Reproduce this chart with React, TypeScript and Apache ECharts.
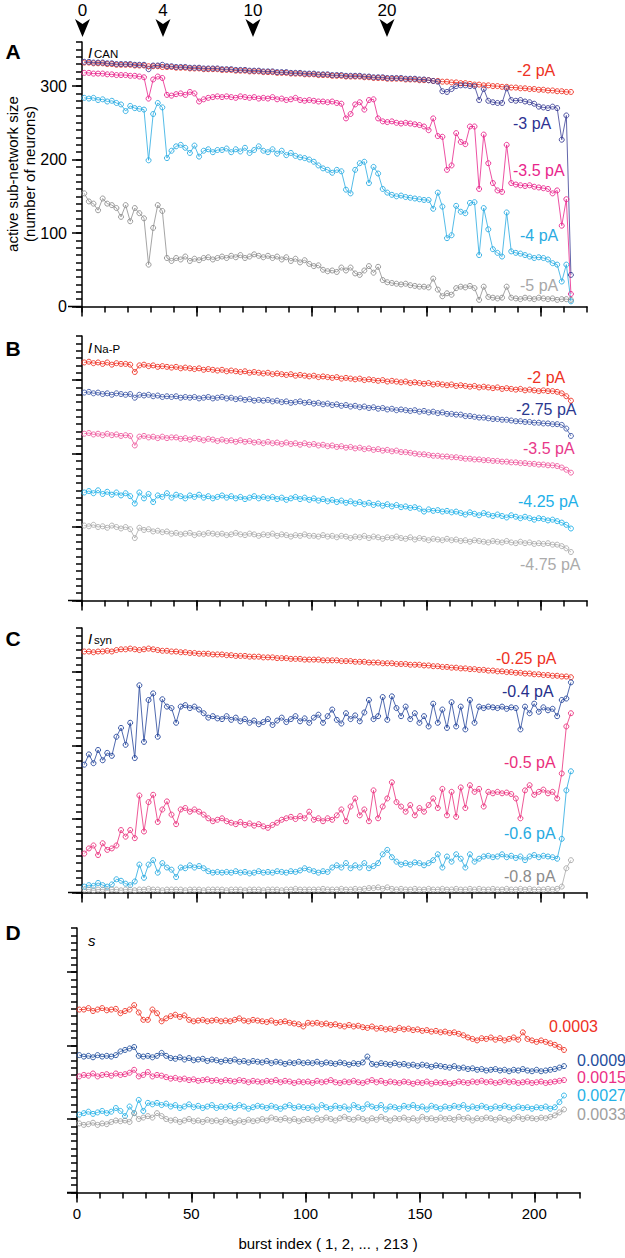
import { useEffect, useRef } from 'react';
import * as echarts from 'echarts';

// burst index of each plotted point (every second burst)
const burst: number[] = Array.from({ length: 107 }, (_, i) => 2 * i + 1);

// ---- Panel A : I_CAN ----
const aRed = [332,332,331,331,331,330,330,329,329,329,329,328,328,328,327,327,327,326,326,326,325,325,325,324,324,324,323,323,323,323,322,322,322,321,321,321,320,320,320,319,319,319,318,318,318,317,317,317,316,316,316,315,315,315,314,314,314,313,313,313,313,312,312,311,311,311,310,310,310,310,309,309,309,308,308,308,307,307,306,306,305,305,304,304,303,302,302,301,301,300,300,299,299,298,298,297,297,296,296,295,295,294,294,293,293,292,292];
const aNavy = [333,333,332,332,332,331,331,330,330,330,330,329,329,329,323,328,328,329,327,327,326,326,326,325,325,325,324,324,324,324,323,323,323,322,322,322,321,321,321,320,320,320,319,319,319,318,318,318,317,317,317,316,316,316,315,315,315,314,314,314,314,313,313,312,312,312,311,311,311,311,310,310,310,309,309,308,307,306,293,292,296,300,301,301,300,300,281,296,280,278,277,277,297,281,280,281,279,278,276,272,271,270,272,270,227,260,43];
const aMagenta = [318,318,317,317,317,316,316,315,315,315,314,314,313,312,283,309,313,311,288,287,289,290,288,292,290,279,282,284,285,286,285,286,285,284,286,285,284,285,283,284,283,285,282,283,281,282,284,281,280,281,280,279,279,278,279,277,276,256,262,275,278,268,281,282,256,252,251,252,250,249,250,249,248,247,245,240,256,232,231,186,192,236,224,221,245,245,160,234,195,168,158,156,220,168,166,165,164,165,163,162,161,160,154,158,110,146,17];
const aCyan = [284,283,284,281,282,279,280,277,275,266,273,270,269,268,199,262,277,271,202,212,218,220,216,209,219,204,212,214,210,213,213,215,210,214,211,216,209,213,218,212,210,214,208,212,206,209,205,203,202,200,197,192,188,186,182,186,184,159,154,186,195,197,168,190,181,160,155,152,150,151,149,148,147,146,145,145,133,155,136,93,97,137,129,127,141,142,70,134,105,78,73,68,128,75,73,72,70,68,66,67,66,64,59,57,34,57,7];
const aGray = [154,143,140,131,147,140,138,134,122,138,116,134,127,120,57,107,138,130,66,62,66,64,68,62,65,63,66,67,64,66,68,66,69,67,70,66,68,71,69,67,69,66,68,64,67,62,65,60,63,58,55,56,50,48,49,47,53,49,53,45,43,49,55,46,54,36,33,32,31,30,31,29,28,27,27,26,38,23,14,18,16,25,27,26,28,25,9,27,13,12,11,12,27,12,11,10,12,11,10,12,11,10,11,9,10,10,9];

// ---- Panel B : I_Na-P ----
const bRed = [324,325,323,324,322,324,321,323,322,322,321,311,320,321,319,320,318,319,318,317,318,316,317,316,315,316,314,315,314,313,314,312,313,312,311,312,310,311,310,309,310,308,309,308,307,308,306,307,306,305,306,304,305,304,303,304,302,303,302,301,302,300,301,300,299,300,298,299,298,297,298,296,297,296,295,296,294,295,294,293,294,292,293,292,291,292,290,291,290,289,290,288,289,288,287,288,286,287,286,285,286,285,285,284,282,278,272];
const bNavy = [283,284,282,283,281,282,280,282,281,280,281,276,280,279,280,278,279,277,278,277,278,276,277,276,277,275,276,277,275,276,277,275,276,274,275,273,274,272,273,272,273,271,272,270,271,269,270,271,269,270,268,269,267,268,266,267,265,266,264,265,263,264,262,263,261,262,260,261,259,260,259,258,259,257,258,256,257,255,256,254,254,253,253,251,251,250,249,249,248,247,247,246,246,245,244,244,243,243,242,242,241,241,240,240,239,234,224];
const bPink = [227,228,226,227,225,227,225,226,224,225,224,211,223,224,222,223,221,223,221,222,222,220,221,219,221,220,218,220,219,217,219,217,218,216,218,216,217,215,216,214,216,214,215,213,215,213,214,212,214,212,213,211,212,210,211,209,210,208,209,207,208,206,207,205,206,204,205,203,204,202,202,201,200,199,199,198,197,197,196,196,195,195,194,193,193,192,192,191,191,190,190,189,189,188,188,187,187,186,186,185,185,184,184,183,181,178,174];
const bCyan = [147,149,146,150,145,148,144,147,143,146,142,132,147,139,145,134,143,141,146,140,144,142,139,143,141,144,140,142,139,141,143,140,142,139,141,138,140,142,139,141,139,141,138,140,137,139,141,138,140,137,139,136,138,135,137,134,136,133,135,132,134,131,133,130,132,129,131,128,130,127,128,126,127,125,121,124,122,123,121,122,120,121,119,117,120,118,116,119,117,115,117,115,113,116,114,112,114,112,110,112,111,109,110,108,106,103,98];
const bGray = [102,101,103,100,101,99,102,100,98,100,97,85,99,96,97,94,95,93,94,91,92,90,91,92,89,91,90,92,91,90,91,89,90,92,90,89,91,90,88,90,89,91,88,90,89,87,89,88,90,88,88,87,89,87,88,86,88,87,85,87,86,88,85,87,86,84,86,85,87,85,84,86,83,85,84,82,84,83,82,84,82,83,81,82,80,82,81,80,79,81,80,79,81,79,78,80,78,79,77,78,77,78,76,76,74,71,66];

// ---- Panel C : I_syn ----
const cRed = [328,328,327,328,328,329,328,330,331,331,332,331,330,331,332,331,330,329,329,328,328,327,327,326,326,325,325,325,324,324,324,323,323,322,322,322,321,321,321,320,320,320,319,319,319,318,318,318,317,317,317,317,316,316,316,316,315,315,315,314,314,314,313,313,313,312,312,312,311,311,311,310,310,310,309,309,308,308,307,307,306,306,305,305,304,304,303,303,302,302,301,301,300,300,299,299,298,298,297,297,296,296,295,295,294,294,293];
const cNavy = [174,188,176,194,180,190,186,212,224,201,231,183,282,205,262,271,212,263,253,251,231,253,255,251,253,249,244,238,240,237,236,240,235,238,233,236,231,234,229,232,236,228,234,238,232,236,240,233,237,231,238,242,231,240,249,235,230,244,236,241,233,245,262,236,240,266,235,267,251,240,253,236,244,231,240,226,257,231,249,224,259,226,253,222,262,231,253,251,253,252,251,253,250,252,251,222,253,244,257,246,252,248,250,240,262,264,286];
const cMagenta = [53,60,64,51,67,58,60,64,85,76,85,74,132,83,123,133,96,113,124,106,93,113,115,110,113,110,106,101,97,99,101,97,95,93,96,92,94,91,93,90,88,92,95,99,101,103,100,104,101,110,99,101,97,101,99,105,113,97,117,128,105,113,97,139,101,117,128,150,123,117,110,119,105,115,110,119,128,115,141,105,137,103,143,115,146,137,141,117,137,135,137,135,136,134,128,101,139,146,133,137,140,135,137,128,162,226,244];
const cCyan = [8,10,9,13,10,8,11,18,16,12,10,15,38,20,38,44,27,40,34,31,21,34,33,37,34,36,33,29,27,28,27,28,27,29,27,28,26,27,29,27,28,27,29,28,27,29,28,30,33,31,29,27,29,28,34,37,34,40,33,37,34,40,33,36,40,52,58,48,42,38,40,38,41,40,37,40,44,52,34,49,42,52,46,34,52,42,46,49,50,48,49,52,48,50,47,49,44,49,51,48,50,49,48,46,73,139,165];
const cGray = [4,4,3,4,4,3,4,4,3,4,4,3,4,4,5,4,4,3,4,4,4,4,3,4,4,4,3,4,4,4,4,3,4,4,4,3,4,4,4,3,4,4,4,3,4,4,5,4,4,4,4,4,5,4,4,4,5,4,4,5,4,5,6,6,7,5,7,5,4,5,4,4,5,4,4,5,4,4,5,4,4,5,4,4,5,4,5,4,4,5,4,4,5,4,4,5,4,5,4,4,4,5,4,5,8,33,44];

// ---- Panel D : s ----
const dRed = [249,249,251,247,249,251,248,249,250,244,247,249,255,245,235,235,249,244,233,237,240,242,239,241,235,233,234,235,233,234,235,233,234,233,235,237,234,233,235,234,233,232,234,231,232,233,231,230,229,226,231,230,231,229,230,228,229,227,226,228,226,227,225,224,226,223,224,222,223,221,224,222,223,221,222,220,221,219,220,218,219,217,218,216,214,211,209,207,210,209,211,208,210,207,209,211,208,218,209,207,205,207,205,203,201,198,194];
const dNavy = [187,185,186,184,187,185,186,185,187,192,194,196,198,186,185,186,184,186,190,186,183,182,184,181,183,180,181,182,179,181,180,178,180,179,181,178,179,177,179,178,177,179,176,178,177,175,177,176,178,176,177,176,178,175,177,176,175,177,176,174,176,175,177,185,175,174,176,175,174,176,174,175,173,174,172,174,173,171,173,172,171,170,172,169,170,168,169,167,168,166,167,168,166,167,165,167,166,168,166,165,167,165,166,167,168,170,172];
const dPink = [158,160,159,162,158,160,161,159,162,160,161,163,167,158,160,164,158,160,159,157,155,156,154,155,153,154,152,153,154,152,153,151,153,152,151,153,152,150,152,151,150,152,151,153,150,152,151,149,151,150,151,149,152,150,151,153,150,149,151,150,152,150,149,151,153,150,152,149,151,150,149,151,150,148,150,149,151,148,150,149,150,148,149,151,150,149,151,150,152,150,151,149,150,152,150,151,149,150,151,149,150,151,149,150,151,152,153];
const dCyan = [106,108,110,107,109,111,108,110,115,111,104,117,108,126,111,122,120,122,119,121,117,119,115,117,120,116,118,115,117,119,115,117,116,118,115,119,117,114,116,118,117,115,118,116,114,117,119,115,117,116,115,117,113,119,116,114,118,115,117,113,119,116,114,120,117,115,119,113,117,116,114,118,116,119,115,117,113,118,116,114,117,115,118,116,119,114,117,115,118,116,114,117,115,118,116,114,117,115,116,114,116,115,117,114,116,123,132];
const dGray = [94,92,93,95,92,94,93,96,98,97,98,96,108,100,102,104,102,108,104,100,98,99,96,98,100,97,98,96,99,97,98,96,99,97,95,98,96,99,97,98,100,98,102,100,99,101,98,100,97,99,100,98,101,99,102,100,98,101,103,100,99,102,100,98,101,99,103,100,98,101,100,102,99,101,98,103,100,101,99,102,100,101,99,103,100,102,98,101,100,102,101,99,102,100,98,101,103,100,102,101,100,102,101,103,105,109,113];

// tick labels
const yTickLabels = ['0', '100', '200', '300'];
const xTickLabels = ['0', '50', '100', '150', '200'];
const arrowLabels = ['0', '4', '10', '20'];

const FONT = '"Liberation Sans", Arial, Helvetica, sans-serif';
const H = 264.5;

type S = { data: number[]; color: string; label: string; lcolor: string; lx: number; ly: number };
type P = { top: number; left: number; width: number; yOff: number; series: S[] };

const panels: P[] = [
  {
    top: 42, left: 82, width: 505, yOff: 4,
    series: [
      { data: aRed, color: '#EE3124', label: '-2 pA', lcolor: '#EE3124', lx: 517, ly: 70 },
      { data: aNavy, color: '#3A3D94', label: '-3 pA', lcolor: '#2E3192', lx: 513, ly: 123 },
      { data: aMagenta, color: '#E8258C', label: '-3.5 pA', lcolor: '#E8258C', lx: 513, ly: 170 },
      { data: aCyan, color: '#29ABE2', label: '-4 pA', lcolor: '#29ABE2', lx: 520, ly: 235 },
      { data: aGray, color: '#8E8E8E', label: '-5 pA', lcolor: '#A8A8A8', lx: 520, ly: 285 },
    ],
  },
  {
    top: 336, left: 82, width: 505, yOff: 4,
    series: [
      { data: bRed, color: '#EE3124', label: '-2 pA', lcolor: '#EE3124', lx: 527, ly: 377 },
      { data: bNavy, color: '#3B56A6', label: '-2.75 pA', lcolor: '#2B3990', lx: 516, ly: 409 },
      { data: bPink, color: '#EE5A9E', label: '-3.5 pA', lcolor: '#E8388A', lx: 523, ly: 448 },
      { data: bCyan, color: '#1EB0E8', label: '-4.25 pA', lcolor: '#1EB0E8', lx: 518, ly: 501 },
      { data: bGray, color: '#ABABAB', label: '-4.75 pA', lcolor: '#ABABAB', lx: 520, ly: 564 },
    ],
  },
  {
    top: 628, left: 82, width: 505, yOff: 4,
    series: [
      { data: cRed, color: '#EE3124', label: '-0.25 pA', lcolor: '#EE3124', lx: 496, ly: 658 },
      { data: cNavy, color: '#23449B', label: '-0.4 pA', lcolor: '#262F8A', lx: 502, ly: 691 },
      { data: cMagenta, color: '#EA2F7C', label: '-0.5 pA', lcolor: '#EA2F7C', lx: 504, ly: 762 },
      { data: cCyan, color: '#27AAE1', label: '-0.6 pA', lcolor: '#27AAE1', lx: 504, ly: 833 },
      { data: cGray, color: '#A8A8A8', label: '-0.8 pA', lcolor: '#8C8C8C', lx: 504, ly: 876 },
    ],
  },
  {
    top: 928, left: 77, width: 503, yOff: 0,
    series: [
      { data: dRed, color: '#EE3124', label: '0.0003', lcolor: '#EE3124', lx: 549, ly: 1026 },
      { data: dNavy, color: '#1F4E9C', label: '0.0009', lcolor: '#1F4E9C', lx: 577, ly: 1060 },
      { data: dPink, color: '#EC2F85', label: '0.0015', lcolor: '#EC2F85', lx: 577, ly: 1077 },
      { data: dCyan, color: '#26B1E6', label: '0.0027', lcolor: '#26B1E6', lx: 577, ly: 1095 },
      { data: dGray, color: '#A0A0A0', label: '0.0033', lcolor: '#A0A0A0', lx: 577, ly: 1114 },
    ],
  },
];

const subTitles = [
  { main: 'I', sub: 'CAN', y: 52 },
  { main: 'I', sub: 'Na-P', y: 347 },
  { main: 'I', sub: 'syn', y: 638 },
  { main: 's', sub: '', y: 940 },
];
const letters = [
  { t: 'A', y: 51 },
  { t: 'B', y: 348 },
  { t: 'C', y: 638 },
  { t: 'D', y: 932 },
];
const arrowX = [82.5, 163, 253, 387];

function txt(text: string, x: number, y: number, opts: any = {}) {
  const align = opts.align || 'left';
  const valign = opts.valign || 'middle';
  return {
    type: 'text',
    x, y,
    rotation: opts.rotation || 0,
    silent: true,
    style: {
      text,
      fill: opts.fill || '#000',
      fontSize: opts.fontSize || 16,
      fontFamily: FONT,
      fontWeight: opts.fontWeight || 'normal',
      fontStyle: opts.fontStyle || 'normal',
      align, textAlign: align,
      verticalAlign: valign, textVerticalAlign: valign,
    },
  };
}

export default function App() {
  const ref = useRef<HTMLDivElement>(null);
  useEffect(() => {
    if (!ref.current) return;
    const chart = echarts.init(ref.current, undefined, { renderer: 'svg' });
    const axisColor = '#000';
    const tickStyle = { color: axisColor, width: 1.5 };
    const grids: any[] = [];
    const xAxes: any[] = [];
    const yAxes: any[] = [];
    const series: any[] = [];
    const graphics: any[] = [];

    // main grids: minor ticks every 10 units
    panels.forEach((p, i) => {
      grids.push({ left: p.left, top: p.top, width: p.width, height: H, containLabel: false, outerBoundsMode: 'none' });
      xAxes.push({
        gridIndex: i, type: 'value', min: 0, max: 220, interval: 110,
        axisLine: { show: true, onZero: false, lineStyle: { color: axisColor, width: 1.5 } },
        axisTick: { show: true, length: 6, lineStyle: tickStyle },
        minorTick: { show: true, splitNumber: 11, length: 6, lineStyle: tickStyle },
        axisLabel: { show: false }, splitLine: { show: false }, minorSplitLine: { show: false },
      });
      yAxes.push({
        gridIndex: i, type: 'value', min: 0, max: 360, interval: 60, offset: p.yOff,
        axisLine: { show: true, lineStyle: { color: axisColor, width: 1.5 } },
        axisTick: { show: true, length: 6, lineStyle: tickStyle },
        minorTick: { show: true, splitNumber: 6, length: 6, lineStyle: tickStyle },
        axisLabel: { show: false }, splitLine: { show: false }, minorSplitLine: { show: false },
      });
    });
    // overlay grids: major ticks (0..200 step 50, 0..300 step 100)
    panels.forEach((p, i) => {
      grids.push({
        left: p.left, top: p.top + (H * 60) / 360, width: (p.width * 200) / 220, height: (H * 300) / 360,
        containLabel: false, outerBoundsMode: 'none',
      });
      xAxes.push({
        gridIndex: 4 + i, type: 'value', min: 0, max: 200, interval: 50,
        axisLine: { show: false },
        axisTick: { show: true, length: 10, lineStyle: tickStyle },
        axisLabel: {
          show: i === 3, margin: 13, color: '#000', fontSize: 15, fontFamily: FONT,
          formatter: (v: number) => xTickLabels[Math.round(v / 50)] ?? '',
        },
        splitLine: { show: false },
      });
      yAxes.push({
        gridIndex: 4 + i, type: 'value', min: 0, max: 300, interval: 100, offset: p.yOff,
        axisLine: { show: false },
        axisTick: { show: true, length: 10, lineStyle: tickStyle },
        axisLabel: {
          show: i === 0, margin: 11, color: '#000', fontSize: 16, fontFamily: FONT,
          formatter: (v: number) => yTickLabels[Math.round(v / 100)] ?? '',
        },
        splitLine: { show: false },
      });
    });

    panels.forEach((p, i) => {
      p.series.forEach((s) => {
        series.push({
          type: 'line', xAxisIndex: i, yAxisIndex: i,
          data: burst.map((x, j) => [x, s.data[j]]),
          symbol: 'circle', symbolSize: 5, showSymbol: true, clip: false,
          lineStyle: { color: s.color, width: 0.8 },
          itemStyle: { color: 'rgba(255,255,255,0)', borderColor: s.color, borderWidth: 0.9 },
          emphasis: { disabled: true }, silent: true,
        });
        graphics.push(txt(s.label, s.lx, s.ly, { fill: s.lcolor, fontSize: 16 }));
      });
      const bottom = p.top + H;
      graphics.push({
        type: 'line', silent: true,
        shape: { x1: p.yOff ? 68 : 67, y1: bottom, x2: p.left, y2: bottom },
        style: { stroke: '#000', lineWidth: 1.5 },
      });
    });

    subTitles.forEach((st) => {
      graphics.push(txt(st.main, 88, st.y, { fontStyle: 'italic', fontSize: 15 }));
      if (st.sub) graphics.push(txt(st.sub, 94, st.y + 1.5, { fontSize: 11.5 }));
    });
    letters.forEach((l) => graphics.push(txt(l.t, 13, l.y, { fontWeight: 'bold', fontSize: 21, align: 'center' })));

    arrowX.forEach((x, k) => {
      graphics.push({
        type: 'polygon', silent: true,
        shape: { points: [[x - 7.5, 19], [x, 24], [x + 7.5, 19], [x, 37]] },
        style: { fill: '#000' },
      });
      graphics.push(txt(arrowLabels[k], x, 10, { fontSize: 17, align: 'center' }));
    });

    graphics.push(txt('active sub-network size', 12, 174, { rotation: Math.PI / 2, align: 'center', fontSize: 15 }));
    graphics.push(txt('(number of neurons)', 29, 174, { rotation: Math.PI / 2, align: 'center', fontSize: 15 }));
    graphics.push(txt('burst index ( 1, 2, ... , 213 )', 328, 1243, { align: 'center', fontSize: 15 }));

    chart.setOption({
      animation: false,
      backgroundColor: '#fff',
      grid: grids,
      xAxis: xAxes,
      yAxis: yAxes,
      series,
      graphic: { elements: graphics },
    });
    return () => chart.dispose();
  }, []);
  return <div ref={ref} style={{ position: 'fixed', left: 0, top: 0, width: 625, height: 1258 }} />;
}
